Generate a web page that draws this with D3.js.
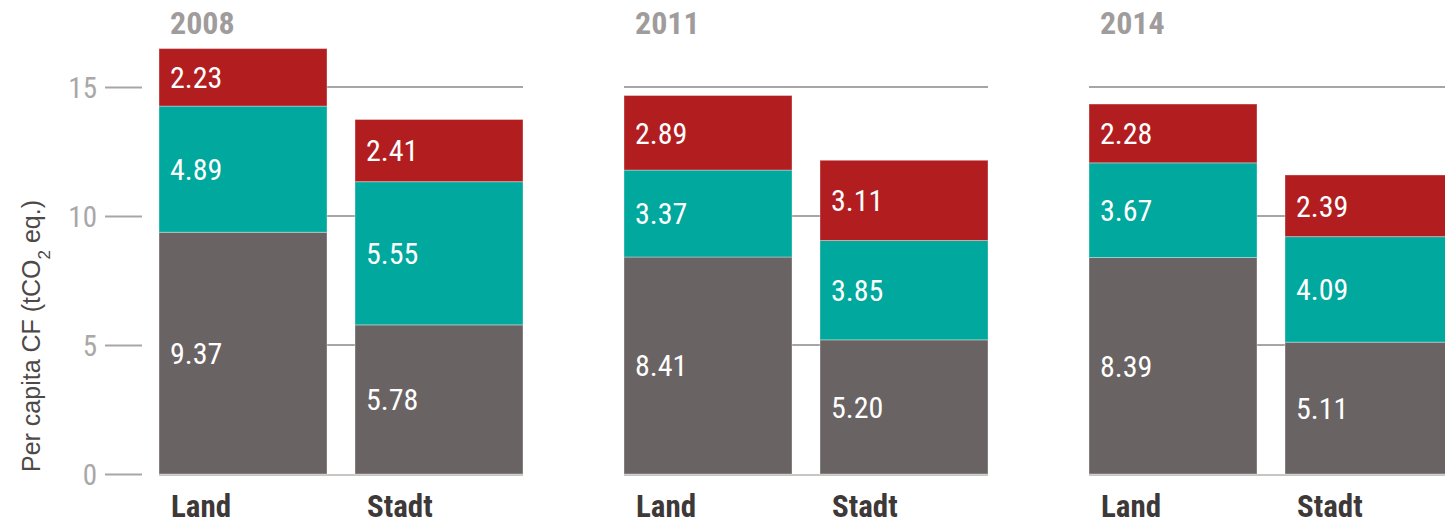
<!DOCTYPE html>
<html>
<head>
<meta charset="utf-8">
<script src="https://cdn.jsdelivr.net/npm/d3@7"></script>
<style>
  html, body { margin: 0; padding: 0; background: #fff; }
  svg { display: block; }
</style>
</head>
<body>
<svg id="chart" width="1445" height="525"></svg>
<script>
// ---- data ----
const years = ["2008", "2011", "2014"];
const categories = ["Land", "Stadt"];
const seriesNames = ["grey", "teal", "red"]; // bottom -> top
const greyValues = [9.37, 5.78, 8.41, 5.20, 8.39, 5.11];
const tealValues = [4.89, 5.55, 3.37, 3.85, 3.67, 4.09];
const redValues  = [2.23, 2.41, 2.89, 3.11, 2.28, 2.39];
const yTicks = [0, 5, 10, 15];
const yTitle = "Per capita CF (tCO";
const colors = { grey: "#6a6363", teal: "#00a89d", red: "#b21e20" };

// build table
const rows = [];
years.forEach((yr, i) => {
  categories.forEach((c, j) => {
    const k = i * categories.length + j;
    rows.push({ year: yr, cat: c, grey: greyValues[k], teal: tealValues[k], red: redValues[k] });
  });
});

const svg = d3.select("#chart");
const narrow = "'Liberation Sans Narrow', 'Arial Narrow', 'Roboto Condensed', sans-serif";

const y = d3.scaleLinear().domain([0, 15]).range([474, 87]);
const x0 = d3.scaleBand().domain(years).range([159, 159 + 465 * 3]).padding(0);
const x1 = d3.scaleBand().domain(categories).range([0, 364]).paddingInner(28 / 196).paddingOuter(0);

const stack = d3.stack().keys(seriesNames);
const stacked = stack(rows);

// per-panel gridlines and baseline
const panels = svg.append("g").selectAll("g").data(years).join("g")
  .attr("transform", d => `translate(${x0(d)},0)`);

panels.selectAll("line.grid").data(yTicks.filter(t => t > 0)).join("line")
  .attr("class", "grid")
  .attr("x1", 0).attr("x2", x1.range()[1])
  .attr("y1", d => y(d)).attr("y2", d => y(d))
  .attr("stroke", "#a9a5a5").attr("stroke-width", 2);

panels.append("line")
  .attr("x1", 0).attr("x2", x1.range()[1])
  .attr("y1", y(0) + 1).attr("y2", y(0) + 1)
  .attr("stroke", "#c8c5c5").attr("stroke-width", 2);

// left axis ticks
const axisG = svg.append("g").attr("transform", "translate(142,0)");
const axis = d3.axisLeft(y).tickValues(yTicks).tickSize(37).tickPadding(8);
axisG.call(axis);
axisG.select(".domain").remove();
axisG.selectAll(".tick line").attr("stroke", "#a9a5a5").attr("stroke-width", 2);
axisG.selectAll(".tick text")
  .attr("fill", "#aaa7a7")
  .style("font-family", narrow)
  .style("font-size", "29px")
  .attr("dy", "0.36em");

// bars
const barG = svg.append("g");
stacked.forEach(layer => {
  const key = layer.key;
  barG.append("g").selectAll("rect").data(layer).join("rect")
    .attr("x", d => x0(d.data.year) + x1(d.data.cat))
    .attr("width", x1.bandwidth())
    .attr("y", d => y(d[1]))
    .attr("height", d => y(d[0]) - y(d[1]))
    .attr("fill", colors[key])
    .attr("stroke", "rgba(255,255,255,0.35)")
    .attr("stroke-width", 1);
  barG.append("g").selectAll("text").data(layer).join("text")
    .attr("x", d => x0(d.data.year) + x1(d.data.cat) + 11)
    .attr("y", d => (y(d[0]) + y(d[1])) / 2)
    .attr("dy", "0.36em")
    .attr("fill", "#fff")
    .style("font-family", narrow)
    .style("font-size", "30px")
    .text(d => d3.format(".2f")(d[1] - d[0]));
});

// year titles
svg.append("g").selectAll("text").data(years).join("text")
  .attr("x", d => x0(d) + 11)
  .attr("y", 34)
  .attr("fill", "#a09c9c")
  .style("font-family", narrow)
  .style("font-weight", "bold")
  .style("font-size", "32px")
  .text(d => d);

// category labels
const catData = [];
years.forEach(yr => categories.forEach(c => catData.push({ year: yr, cat: c })));
svg.append("g").selectAll("text").data(catData).join("text")
  .attr("x", d => x0(d.year) + x1(d.cat) + 12)
  .attr("y", 517)
  .attr("fill", "#3d3938")
  .style("font-family", narrow)
  .style("font-weight", "bold")
  .style("font-size", "31px")
  .text(d => d.cat);

// y title
const yt = svg.append("text")
  .attr("transform", "translate(40,336) rotate(-90)")
  .attr("text-anchor", "middle")
  .attr("fill", "#4d4949")
  .style("font-family", "'Liberation Sans', Arial, sans-serif")
  .style("font-size", "25px");
yt.append("tspan").text(yTitle);
yt.append("tspan").attr("baseline-shift", "sub").style("font-size", "17px").text("2");
yt.append("tspan").text(" eq.)");
</script>
</body>
</html>
